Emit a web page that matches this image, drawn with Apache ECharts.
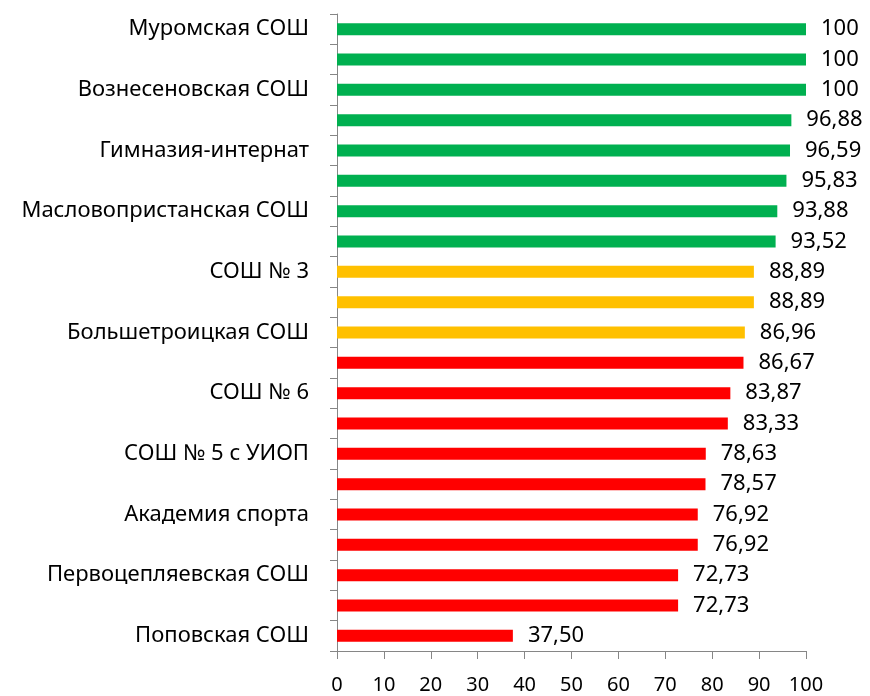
<!DOCTYPE html>
<html>
<head>
<meta charset="utf-8">
<script src="https://cdn.jsdelivr.net/npm/echarts@6/dist/echarts.min.js"></script>
<style>
  html, body { margin: 0; padding: 0; background: #fff; }
  #chart { width: 870px; height: 696px; }
</style>
</head>
<body>
<div id="chart"></div>
<script>
// categories top to bottom; only every other name is shown on the chart
let schools = ['Муромская СОШ', '', 'Вознесеновская СОШ', '', 'Гимназия-интернат', '',
    'Масловопристанская СОШ', '', 'СОШ № 3', '', 'Большетроицкая СОШ', '', 'СОШ № 6', '',
    'СОШ № 5 с УИОП', '', 'Академия спорта', '', 'Первоцепляевская СОШ', '', 'Поповская СОШ'];
let values = [100, 100, 100, 96.88, 96.59, 95.83, 93.88, 93.52, 88.89, 88.89, 86.96,
    86.67, 83.87, 83.33, 78.63, 78.57, 76.92, 76.92, 72.73, 72.73, 37.50];
let barColors = ['#00B050', '#00B050', '#00B050', '#00B050', '#00B050', '#00B050', '#00B050', '#00B050',
    '#FFC000', '#FFC000', '#FFC000',
    '#FF0000', '#FF0000', '#FF0000', '#FF0000', '#FF0000', '#FF0000', '#FF0000', '#FF0000', '#FF0000', '#FF0000'];
let xTicks = [0, 10, 20, 30, 40, 50, 60, 70, 80, 90, 100];

let font = 'Noto Sans';

let myChart = echarts.init(document.getElementById('chart'));

let option = {
    backgroundColor: '#fff',
    animation: false,
    grid: { left: 337, right: 64, top: 14, bottom: 45, containLabel: false },
    xAxis: {
        type: 'value',
        min: xTicks[0],
        max: xTicks[xTicks.length - 1],
        interval: 10,
        splitLine: { show: false },
        axisLine: { show: true, lineStyle: { color: '#868686', width: 1 } },
        axisTick: { show: true, length: 8, lineStyle: { color: '#868686' } },
        axisLabel: { color: '#000', fontFamily: font, fontSize: 20, margin: 24 }
    },
    yAxis: {
        type: 'category',
        inverse: true,
        data: schools,
        axisLine: { show: true, lineStyle: { color: '#868686', width: 1 } },
        axisTick: { show: true, length: 7, lineStyle: { color: '#868686' } },
        axisLabel: { color: '#000', fontFamily: font, fontSize: 22, margin: 28, interval: 0 }
    },
    series: [{
        type: 'bar',
        barWidth: 12,
        data: values.map(function (v, i) {
            return { value: v, itemStyle: { color: barColors[i] } };
        }),
        label: {
            show: true,
            position: 'right',
            distance: 15,
            color: '#000',
            fontFamily: font,
            fontSize: 22,
            formatter: function (p) {
                let v = p.value;
                return Number.isInteger(v) ? String(v) : v.toFixed(2).replace('.', ',');
            }
        }
    }]
};
myChart.setOption(option);
</script>
</body>
</html>
